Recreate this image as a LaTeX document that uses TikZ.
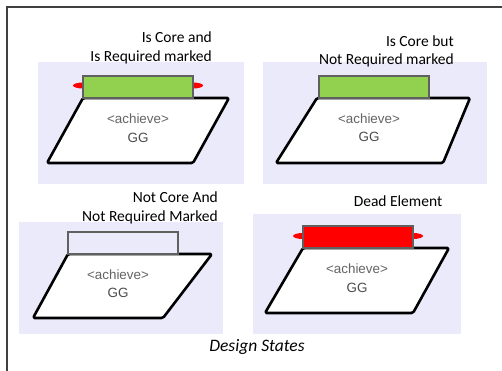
\documentclass[tikz,border=0pt]{standalone}
\usepackage{fontspec}
\newfontfamily\labelfont{Carlito}
\newfontfamily\goalfont{Liberation Sans}
\definecolor{bgpanel}{RGB}{234,234,251}
\definecolor{coregreen}{RGB}{146,208,80}
\definecolor{deadred}{RGB}{255,0,0}
\definecolor{bargray}{RGB}{96,96,96}
\definecolor{goaltext}{RGB}{100,100,100}
\tikzset{
  panelbg/.style={fill=bgpanel, draw=none},
  goalshape/.style={draw=black, fill=white, line width=2.6pt, rounded corners=1.5pt, line join=round},
  markbar/.style={draw=bargray, line width=1.2pt},
  tab/.style={fill=deadred, draw=none},
  statelabel/.style={font=\labelfont\fontsize{15.5}{18.5}\selectfont, align=right, anchor=east, inner sep=0pt, text=black},
  goallabel/.style={font=\goalfont\fontsize{13.4}{18.5}\selectfont, align=center, inner sep=0pt, text=goaltext},
  frameline/.style={draw=black!75, line width=1.2pt}
}
\begin{document}
\begin{tikzpicture}[x=1pt,y=-1pt]
\useasboundingbox (0,0) rectangle (502,371);
\fill[white] (0,0) rectangle (502,371);
% frame
\coordinate (fa) at (7,371);
\coordinate (fb) at (7,7);
\coordinate (fc) at (502,7);
\draw[frameline] (fa) -- (fb) -- (fc);
% backgrounds
\path[panelbg] (38,62) rectangle (244,184);
\path[panelbg] (263,62) rectangle (487,184);
\path[panelbg] (19,222) rectangle (223,334);
\path[panelbg] (253,214) rectangle (461,334);
% panel 1: core and required
\path[goalshape] (83,98) -- (229,98) -- (193,163) -- (47,163) -- cycle;
\fill[tab] (83,85.5) ellipse [x radius=10, y radius=3];
\fill[tab] (193,85.5) ellipse [x radius=10, y radius=3];
\path[markbar, fill=coregreen] (83,76) rectangle (193,98);
\node[goallabel] (g1) at (138,128) {<achieve>\\\textcolor{black!70}{GG}};
\node[statelabel] (l1) at (212,48) {Is Core and\\Is Required marked};
% panel 2: core but not required
\path[goalshape] (317,98) -- (470,98) -- (443,163) -- (276,163) -- cycle;
\path[markbar, fill=coregreen] (319,76) rectangle (429,98);
\node[goallabel] (g2) at (369,127.5) {<achieve>\\\textcolor{black!70}{GG}};
\node[statelabel] (l2) at (454,51.5) {Is Core but\\Not Required marked};
% panel 3: not core, not required
\path[goalshape] (68,254) -- (212,254) -- (163,318) -- (33,318) -- cycle;
\path[markbar, fill=bgpanel] (68,232) rectangle (178,254);
\node[goallabel] (g3) at (118,283.5) {<achieve>\\\textcolor{black!70}{GG}};
\node[statelabel] (l3) at (218,208) {Not Core And\\Not Required Marked};
% panel 4: dead element
\path[goalshape] (303,248) -- (449,248) -- (413,313) -- (265,313) -- cycle;
\fill[tab] (303,236) ellipse [x radius=10, y radius=3];
\fill[tab] (413,236) ellipse [x radius=10, y radius=3];
\path[markbar, fill=deadred] (303,226) rectangle (413,248);
\node[goallabel] (g4) at (357,278) {<achieve>\\\textcolor{black!70}{GG}};
\node[font=\labelfont\fontsize{15.5}{18.5}\selectfont, inner sep=0pt] (l4) at (398,201) {Dead Element};
% caption
\node[font=\labelfont\itshape\fontsize{17.5}{21}\selectfont, inner sep=0pt] (cap) at (257,347) {Design States};
\end{tikzpicture}
\end{document}
